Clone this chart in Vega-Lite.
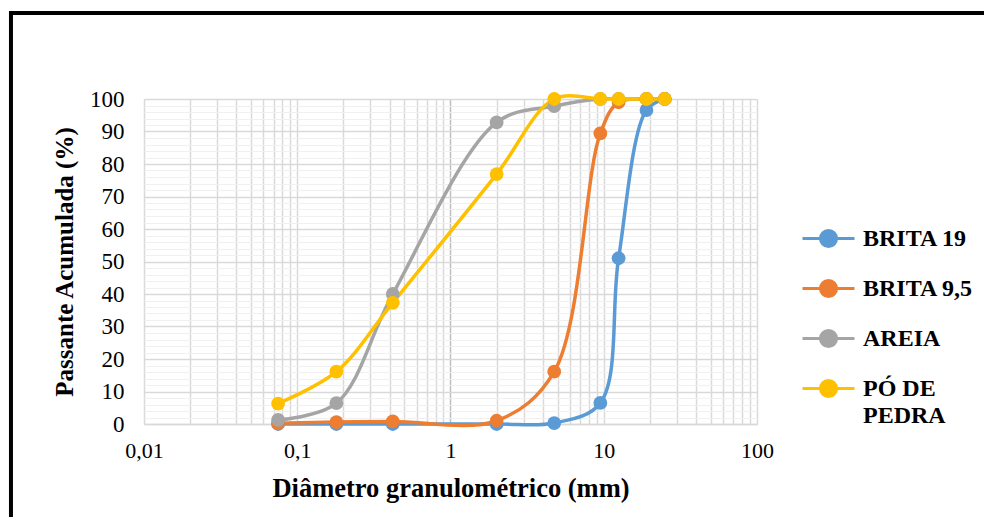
{
  "$schema": "https://vega.github.io/schema/vega-lite/v6.json",
  "width": 613,
  "height": 325,
  "autosize": {"type": "none"},
  "padding": {"left": 144, "top": 99, "right": 227, "bottom": 93},
  "background": "white",
  "config": {"view": {"stroke": null}, "font": "Liberation Serif"},
  "layer": [
    {
      "data": {"values": [
        {"serie": "BRITA 19", "d": 0.075, "p": 0},
        {"serie": "BRITA 19", "d": 0.18, "p": 0},
        {"serie": "BRITA 19", "d": 0.42, "p": 0},
        {"serie": "BRITA 19", "d": 2.0, "p": 0},
        {"serie": "BRITA 19", "d": 4.75, "p": 0.3},
        {"serie": "BRITA 19", "d": 9.5, "p": 6.5},
        {"serie": "BRITA 19", "d": 12.5, "p": 51},
        {"serie": "BRITA 19", "d": 19, "p": 96.6},
        {"serie": "BRITA 19", "d": 25, "p": 100},
        {"serie": "BRITA 9,5", "d": 0.075, "p": 0.2},
        {"serie": "BRITA 9,5", "d": 0.18, "p": 0.6},
        {"serie": "BRITA 9,5", "d": 0.42, "p": 0.8},
        {"serie": "BRITA 9,5", "d": 2.0, "p": 1.0},
        {"serie": "BRITA 9,5", "d": 4.75, "p": 16.1},
        {"serie": "BRITA 9,5", "d": 9.5, "p": 89.4},
        {"serie": "BRITA 9,5", "d": 12.5, "p": 99},
        {"serie": "BRITA 9,5", "d": 19, "p": 100},
        {"serie": "BRITA 9,5", "d": 25, "p": 100},
        {"serie": "AREIA", "d": 0.075, "p": 1.3},
        {"serie": "AREIA", "d": 0.18, "p": 6.4},
        {"serie": "AREIA", "d": 0.42, "p": 40},
        {"serie": "AREIA", "d": 2.0, "p": 92.8},
        {"serie": "AREIA", "d": 4.75, "p": 97.8},
        {"serie": "AREIA", "d": 9.5, "p": 100},
        {"serie": "AREIA", "d": 12.5, "p": 100},
        {"serie": "AREIA", "d": 19, "p": 100},
        {"serie": "AREIA", "d": 25, "p": 100},
        {"serie": "PÓ DE PEDRA", "d": 0.075, "p": 6.3},
        {"serie": "PÓ DE PEDRA", "d": 0.18, "p": 16.1},
        {"serie": "PÓ DE PEDRA", "d": 0.42, "p": 37.3},
        {"serie": "PÓ DE PEDRA", "d": 2.0, "p": 76.9},
        {"serie": "PÓ DE PEDRA", "d": 4.75, "p": 100},
        {"serie": "PÓ DE PEDRA", "d": 9.5, "p": 100},
        {"serie": "PÓ DE PEDRA", "d": 12.5, "p": 100},
        {"serie": "PÓ DE PEDRA", "d": 19, "p": 100},
        {"serie": "PÓ DE PEDRA", "d": 25, "p": 100}
      ]},
      "mark": {"type": "line", "interpolate": "catmull-rom", "strokeWidth": 3.5, "point": {"filled": true, "size": 190, "opacity": 1}},
      "encoding": {
        "x": {
          "field": "d", "type": "quantitative",
          "scale": {"type": "log", "domain": [0.01, 100]},
          "axis": {
            "values": [0.01,0.02,0.03,0.04,0.05,0.06,0.07,0.08,0.09,0.1,0.2,0.3,0.4,0.5,0.6,0.7,0.8,0.9,1,2,3,4,5,6,7,8,9,10,20,30,40,50,60,70,80,90,100],
            "labelExpr": "datum.value === 0.01 ? '0,01' : datum.value === 0.1 ? '0,1' : datum.value === 1 ? '1' : datum.value === 10 ? '10' : datum.value === 100 ? '100' : ''",
            "labelOverlap": false,
            "labelFlush": false,
            "ticks": false,
            "domainColor": "#d9d9d9",
            "domainWidth": 1.5,
            "gridColor": {"condition": {"test": "datum.value === 1", "value": "#bfbfbf"}, "value": "#d9d9d9"},
            "gridWidth": 1.5,
            "labelFont": "Liberation Serif",
            "labelFontSize": 22,
            "labelColor": "black",
            "labelPadding": 16,
            "title": "Diâmetro granulométrico (mm)",
            "titleFont": "Liberation Serif",
            "titleFontSize": 26.5,
            "titleFontWeight": "bold",
            "titleColor": "black",
            "titlePadding": 14
          }
        },
        "y": {
          "field": "p", "type": "quantitative",
          "scale": {"domain": [0, 100]},
          "axis": {
            "values": [0,2,4,6,8,10,12,14,16,18,20,22,24,26,28,30,32,34,36,38,40,42,44,46,48,50,52,54,56,58,60,62,64,66,68,70,72,74,76,78,80,82,84,86,88,90,92,94,96,98,100],
            "labelExpr": "datum.value % 10 === 0 ? datum.label : ''",
            "labelOverlap": false,
            "labelFlush": false,
            "ticks": false,
            "domain": false,
            "gridColor": {"condition": {"test": "datum.value % 10 === 0", "value": "#d9d9d9"}, "value": "#f0f0f0"},
            "gridWidth": {"condition": {"test": "datum.value % 10 === 0", "value": 1.5}, "value": 1},
            "labelFont": "Liberation Serif",
            "labelFontSize": 23,
            "labelColor": "black",
            "labelPadding": 20,
            "title": "Passante Acumulada (%)",
            "titleFont": "Liberation Serif",
            "titleFontSize": 25,
            "titleFontWeight": "bold",
            "titleColor": "black",
            "titlePadding": 12
          }
        },
        "color": {
          "field": "serie", "type": "nominal",
          "scale": {"domain": ["BRITA 19", "BRITA 9,5", "AREIA", "PÓ DE PEDRA"], "range": ["#5B9BD5", "#ED7D31", "#A5A5A5", "#FFC000"]},
          "legend": {
            "orient": "none",
            "legendX": 657,
            "legendY": 112,
            "title": null,
            "padding": 0,
            "labelFont": "Liberation Serif",
            "labelFontWeight": "bold",
            "labelFontSize": 24,
            "labelColor": "black",
            "labelLimit": 0,
            "labelOffset": 7,
            "labelBaseline": "middle",
            "labelExpr": "datum.label === 'PÓ DE PEDRA' ? ['PÓ DE', 'PEDRA'] : datum.label",
            "symbolType": "M-1,0L1,0M-0.31,0A0.31,0.31,0,1,1,0.31,0A0.31,0.31,0,1,1,-0.31,0Z",
            "symbolSize": 2704,
            "symbolStrokeWidth": 3,
            "symbolOpacity": 1,
            "rowPadding": 8,
            "encode": {
              "symbols": {"update": {"stroke": {"scale": "color", "field": "value"}, "fill": {"scale": "color", "field": "value"}}},
              "labels": {"update": {"lineHeight": {"value": 27}}}
            }
          }
        }
      }
    },
    {
      "data": {"values": [{}]},
      "mark": {"type": "rect", "fill": "white", "fillOpacity": 0, "stroke": "black", "strokeWidth": 4, "clip": false},
      "encoding": {
        "x": {
          "datum": 0.001355, "type": "quantitative",
          "scale": {"type": "log", "domain": [0.01, 100]},
          "axis": {
            "values": [0.01,0.02,0.03,0.04,0.05,0.06,0.07,0.08,0.09,0.1,0.2,0.3,0.4,0.5,0.6,0.7,0.8,0.9,1,2,3,4,5,6,7,8,9,10,20,30,40,50,60,70,80,90,100],
            "labelExpr": "datum.value === 0.01 ? '0,01' : datum.value === 0.1 ? '0,1' : datum.value === 1 ? '1' : datum.value === 10 ? '10' : datum.value === 100 ? '100' : ''",
            "labelOverlap": false,
            "labelFlush": false,
            "ticks": false,
            "domainColor": "#d9d9d9",
            "domainWidth": 1.5,
            "gridColor": {"condition": {"test": "datum.value === 1", "value": "#bfbfbf"}, "value": "#d9d9d9"},
            "gridWidth": 1.5,
            "labelFont": "Liberation Serif",
            "labelFontSize": 22,
            "labelColor": "black",
            "labelPadding": 16,
            "title": "Diâmetro granulométrico (mm)",
            "titleFont": "Liberation Serif",
            "titleFontSize": 26.5,
            "titleFontWeight": "bold",
            "titleColor": "black",
            "titlePadding": 14
          }
        },
        "x2": {"datum": 10000},
        "y": {
          "datum": 126.5, "type": "quantitative",
          "scale": {"domain": [0, 100]},
          "axis": {
            "values": [0,2,4,6,8,10,12,14,16,18,20,22,24,26,28,30,32,34,36,38,40,42,44,46,48,50,52,54,56,58,60,62,64,66,68,70,72,74,76,78,80,82,84,86,88,90,92,94,96,98,100],
            "labelExpr": "datum.value % 10 === 0 ? datum.label : ''",
            "labelOverlap": false,
            "labelFlush": false,
            "ticks": false,
            "domain": false,
            "gridColor": {"condition": {"test": "datum.value % 10 === 0", "value": "#d9d9d9"}, "value": "#f0f0f0"},
            "gridWidth": {"condition": {"test": "datum.value % 10 === 0", "value": 1.5}, "value": 1},
            "labelFont": "Liberation Serif",
            "labelFontSize": 23,
            "labelColor": "black",
            "labelPadding": 20,
            "title": "Passante Acumulada (%)",
            "titleFont": "Liberation Serif",
            "titleFontSize": 25,
            "titleFontWeight": "bold",
            "titleColor": "black",
            "titlePadding": 12
          }
        },
        "y2": {"datum": -40}
      }
    }
  ]
}
